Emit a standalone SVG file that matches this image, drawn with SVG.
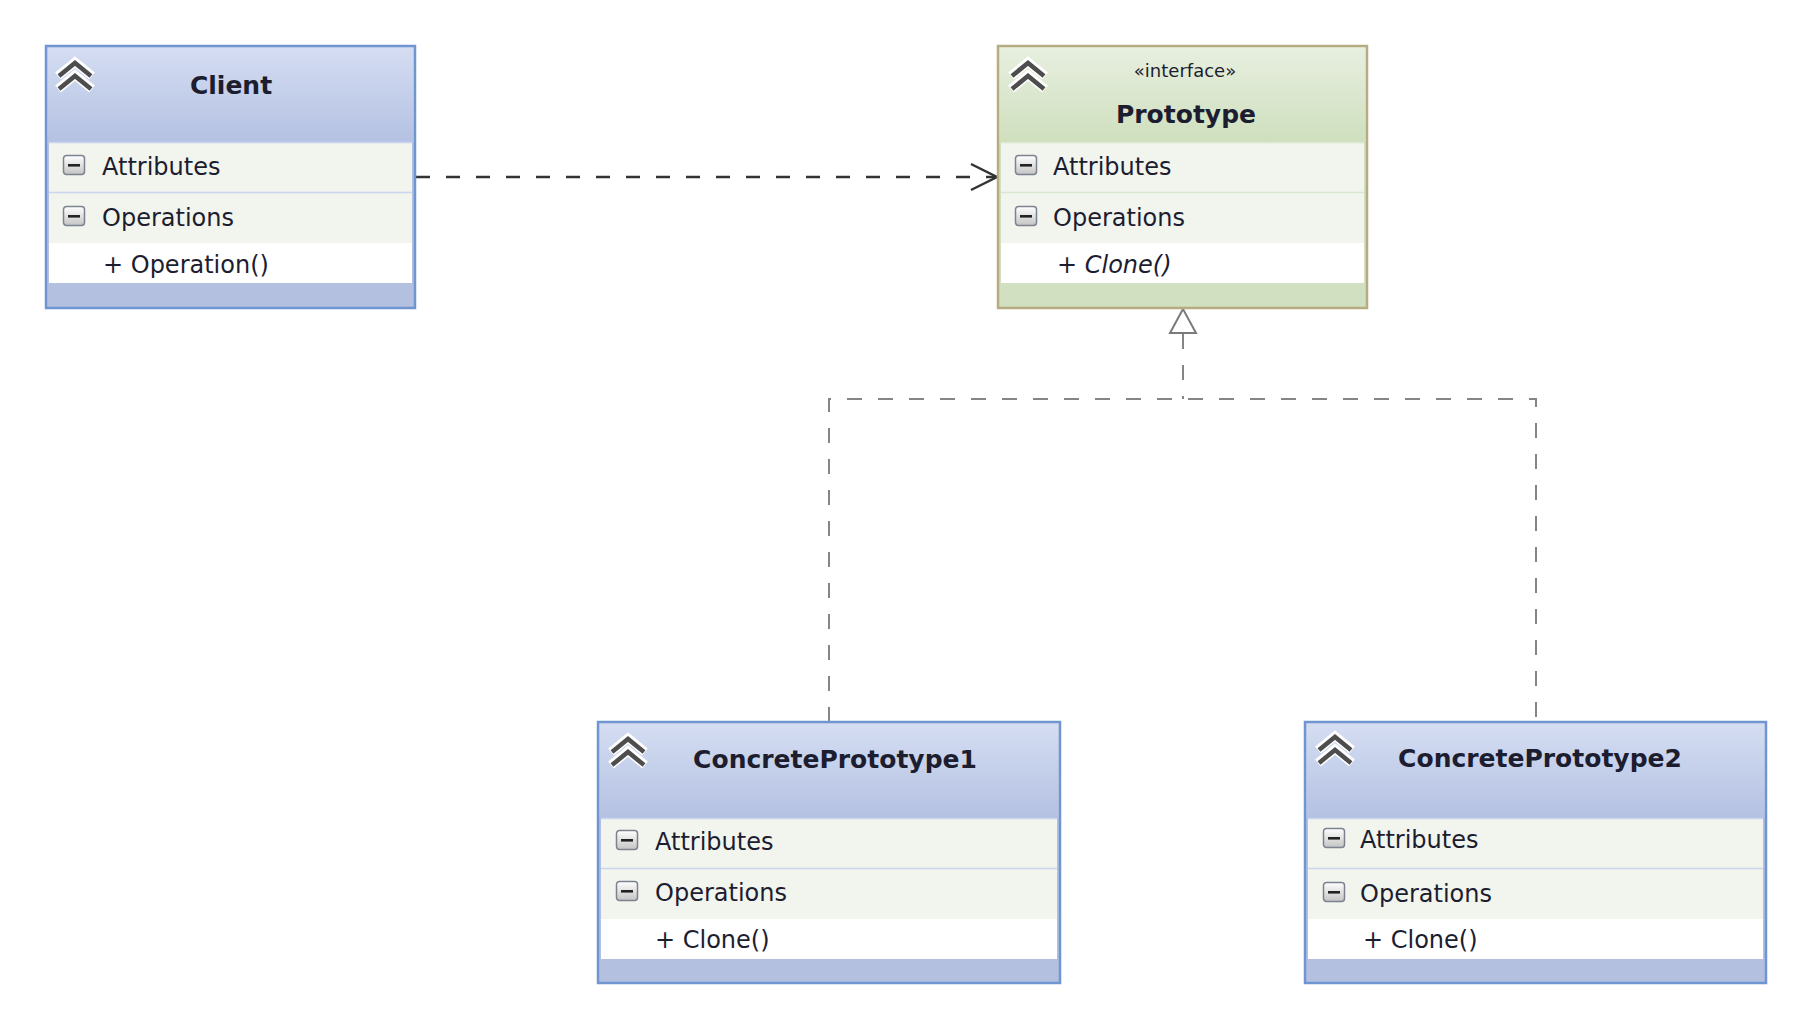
<svg xmlns="http://www.w3.org/2000/svg" width="1801" height="1010" viewBox="0 0 1801 1010">
<defs>
<linearGradient id="hdrBlue" x1="0" y1="0" x2="0" y2="1"><stop offset="0" stop-color="#d4ddf2"/><stop offset="1" stop-color="#b4c1e2"/></linearGradient>
<linearGradient id="hdrGreen" x1="0" y1="0" x2="0" y2="1"><stop offset="0" stop-color="#e7efdf"/><stop offset="1" stop-color="#cfdfbe"/></linearGradient>
<linearGradient id="btn" x1="0" y1="0" x2="0" y2="1"><stop offset="0" stop-color="#ffffff"/><stop offset="1" stop-color="#c4c4c4"/></linearGradient>
<g id="chev">
<polyline points="0,16 17,2 34,16" fill="none" stroke="#ffffff" stroke-width="9" stroke-linejoin="miter"/>
<polyline points="0,29 17,15 34,29" fill="none" stroke="#ffffff" stroke-width="9" stroke-linejoin="miter"/>
<polyline points="1,16 17,3 33,16" fill="none" stroke="#4d4d4d" stroke-width="4.5"/>
<polyline points="1,29 17,16 33,29" fill="none" stroke="#4d4d4d" stroke-width="4.5"/>
</g>
<g id="minus">
<rect x="0.5" y="0.5" width="21" height="19" rx="3" fill="url(#btn)" stroke="#7c8290" stroke-width="1.5"/>
<rect x="5" y="9" width="12" height="2.6" fill="#222"/>
</g>
</defs>
<style>
text{font-family:"DejaVu Sans","Liberation Sans",sans-serif;fill:#1d1d30}
.t{font-size:25px;font-weight:bold}
.r{font-size:24px}
.st{font-size:18px}
.it{font-style:italic}
.row{fill:#f1f5ee}
.sep{stroke:#cad6ee;stroke-width:1.5}
.blue{stroke:#7096d2;stroke-width:2.5}
.green{stroke:#b6ab83;stroke-width:2.5}
.dep{fill:none;stroke:#333;stroke-width:2.5;stroke-dasharray:14 16}
.gen{fill:none;stroke:#858585;stroke-width:2;stroke-dasharray:15 16}
</style>
<rect width="1801" height="1010" fill="#ffffff"/>

<g id="connectors">
<line class="dep" x1="416" y1="177" x2="996" y2="177"/>
<polyline points="971,164 997,177 971,190" fill="none" stroke="#333" stroke-width="2.5"/>
<polyline class="gen" points="1183,334 1183,399"/>
<polyline class="gen" points="829,722 829,399 1536,399 1536,722"/>
<polygon points="1183,309 1170,333 1196,333" fill="#ffffff" stroke="#7a7a7a" stroke-width="2"/>
</g>

<g id="client">
<rect x="46" y="46" width="369" height="262" fill="#b4c0e0" class="blue"/>
<rect x="47.5" y="47.5" width="366" height="95" fill="url(#hdrBlue)"/>
<rect x="49" y="142" width="363" height="101" class="row"/>
<rect x="49" y="243" width="363" height="40" fill="#ffffff"/>
<line x1="49" y1="142.5" x2="412" y2="142.5" class="sep"/>
<line x1="49" y1="192.5" x2="412" y2="192.5" class="sep"/>
<use href="#chev" x="58" y="60"/>
<text x="231" y="94" text-anchor="middle" class="t">Client</text>
<use href="#minus" x="63" y="155"/>
<text x="102" y="175" class="r">Attributes</text>
<use href="#minus" x="63" y="206"/>
<text x="102" y="226" class="r">Operations</text>
<text x="103" y="273" class="r">+ Operation()</text>
</g>

<g id="prototype">
<rect x="998" y="46" width="369" height="262" fill="#d1e0c0" class="green"/>
<rect x="999.5" y="47.5" width="366" height="95" fill="url(#hdrGreen)"/>
<rect x="1001" y="142" width="363" height="101" class="row"/>
<rect x="1001" y="243" width="363" height="40" fill="#ffffff"/>
<line x1="1001" y1="142.5" x2="1364" y2="142.5" stroke="#dbe6cf" stroke-width="1.5"/>
<line x1="1001" y1="192.5" x2="1364" y2="192.5" stroke="#dbe6cf" stroke-width="1.5"/>
<use href="#chev" x="1011" y="60"/>
<text x="1185" y="77" text-anchor="middle" class="st">«interface»</text>
<text x="1186" y="123" text-anchor="middle" class="t">Prototype</text>
<use href="#minus" x="1015" y="155"/>
<text x="1053" y="175" class="r">Attributes</text>
<use href="#minus" x="1015" y="206"/>
<text x="1053" y="226" class="r">Operations</text>
<text x="1057" y="273" class="r it">+ Clone()</text>
</g>

<g id="concrete1">
<rect x="598" y="722" width="462" height="261" fill="#b4c0e0" class="blue"/>
<rect x="599.5" y="723.5" width="459" height="95" fill="url(#hdrBlue)"/>
<rect x="601" y="818" width="456" height="101" class="row"/>
<rect x="601" y="919" width="456" height="40" fill="#ffffff"/>
<line x1="601" y1="818.5" x2="1057" y2="818.5" class="sep"/>
<line x1="601" y1="868.5" x2="1057" y2="868.5" class="sep"/>
<use href="#chev" x="611" y="736"/>
<text x="835" y="768" text-anchor="middle" class="t">ConcretePrototype1</text>
<use href="#minus" x="616" y="830"/>
<text x="655" y="850" class="r">Attributes</text>
<use href="#minus" x="616" y="881"/>
<text x="655" y="901" class="r">Operations</text>
<text x="655" y="948" class="r">+ Clone()</text>
</g>

<g id="concrete2">
<rect x="1305" y="722" width="461" height="261" fill="#b4c0e0" class="blue"/>
<rect x="1306.5" y="723.5" width="458" height="95" fill="url(#hdrBlue)"/>
<rect x="1308" y="818" width="455" height="101" class="row"/>
<rect x="1308" y="919" width="455" height="40" fill="#ffffff"/>
<line x1="1308" y1="818.5" x2="1763" y2="818.5" class="sep"/>
<line x1="1308" y1="868.5" x2="1763" y2="868.5" class="sep"/>
<use href="#chev" x="1318" y="734"/>
<text x="1540" y="767" text-anchor="middle" class="t">ConcretePrototype2</text>
<use href="#minus" x="1323" y="828"/>
<text x="1360" y="848" class="r">Attributes</text>
<use href="#minus" x="1323" y="882"/>
<text x="1360" y="902" class="r">Operations</text>
<text x="1363" y="948" class="r">+ Clone()</text>
</g>
</svg>
